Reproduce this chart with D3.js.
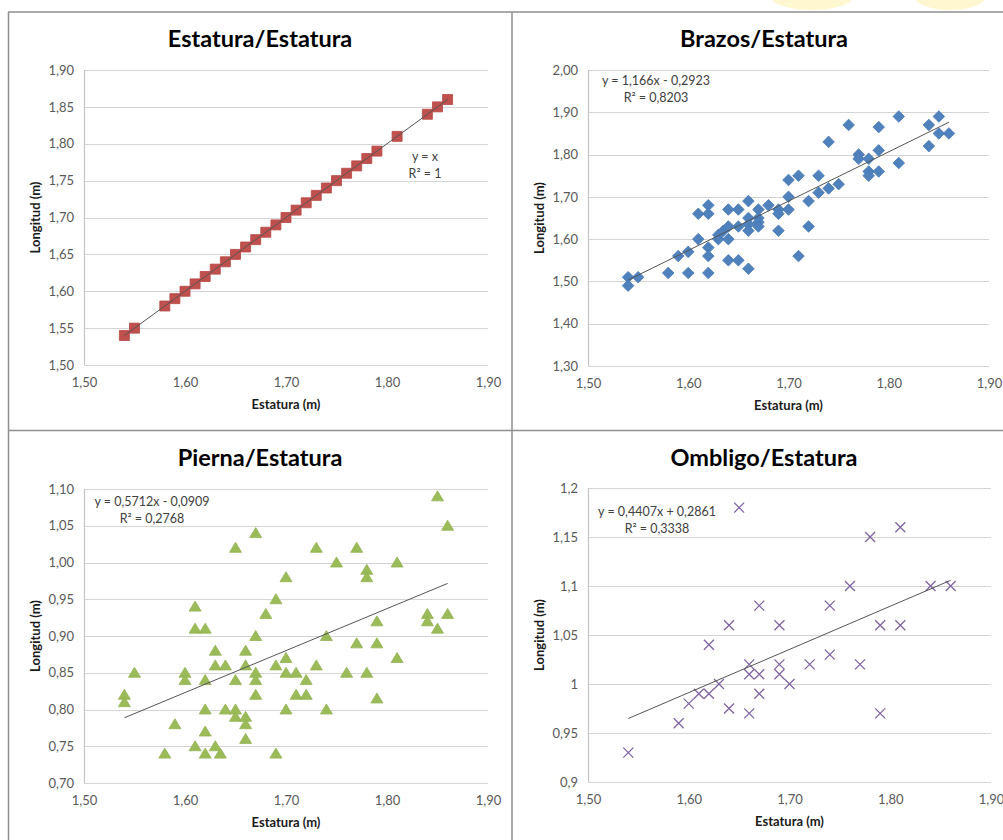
<!DOCTYPE html>
<html>
<head>
<meta charset="utf-8">
<script src="https://cdn.jsdelivr.net/npm/d3@7"></script>
<style>
  body { margin: 0; background: #fff; }
  svg { display: block; font-family: Lato, 'Open Sans', sans-serif; }
</style>
</head>
<body>
<svg id="chart" width="1003" height="840"></svg>
<script>
// values (x = estatura, y = longitud)
const estatura = [1.54, 1.55, 1.58, 1.59, 1.60, 1.61, 1.62, 1.63, 1.64, 1.65, 1.66, 1.67, 1.68, 1.69,
  1.70, 1.71, 1.72, 1.73, 1.74, 1.75, 1.76, 1.77, 1.78, 1.79, 1.81, 1.84, 1.85, 1.86];

const brazos = [
  [1.54, 1.51], [1.54, 1.49], [1.55, 1.51], [1.58, 1.52], [1.59, 1.56], [1.60, 1.57], [1.60, 1.52],
  [1.61, 1.66], [1.61, 1.60], [1.62, 1.68], [1.62, 1.66], [1.62, 1.58], [1.62, 1.56], [1.62, 1.52],
  [1.63, 1.60], [1.63, 1.61], [1.635, 1.62], [1.64, 1.63], [1.64, 1.67], [1.64, 1.60], [1.64, 1.55],
  [1.65, 1.67], [1.65, 1.63], [1.65, 1.55], [1.66, 1.69], [1.66, 1.65], [1.66, 1.635], [1.66, 1.62],
  [1.66, 1.53], [1.67, 1.67], [1.67, 1.65], [1.67, 1.64], [1.67, 1.63], [1.68, 1.68], [1.69, 1.67],
  [1.69, 1.66], [1.69, 1.62], [1.70, 1.74], [1.70, 1.70], [1.70, 1.67], [1.71, 1.75], [1.71, 1.56],
  [1.72, 1.69], [1.72, 1.63], [1.73, 1.75], [1.73, 1.71], [1.74, 1.83], [1.74, 1.72], [1.75, 1.73],
  [1.76, 1.87], [1.77, 1.80], [1.77, 1.79], [1.78, 1.79], [1.78, 1.76], [1.78, 1.75], [1.79, 1.865],
  [1.79, 1.81], [1.79, 1.76], [1.81, 1.89], [1.81, 1.78], [1.84, 1.87], [1.84, 1.82], [1.85, 1.89],
  [1.85, 1.85], [1.86, 1.85]
];

const pierna = [
  [1.54, 0.82], [1.54, 0.81], [1.55, 0.85], [1.58, 0.74], [1.59, 0.78], [1.60, 0.85], [1.60, 0.84],
  [1.61, 0.94], [1.61, 0.91], [1.61, 0.75], [1.62, 0.91], [1.62, 0.84], [1.62, 0.80], [1.62, 0.77],
  [1.62, 0.74], [1.63, 0.88], [1.63, 0.86], [1.63, 0.75], [1.635, 0.74], [1.64, 0.86], [1.64, 0.80],
  [1.65, 1.02], [1.65, 0.84], [1.65, 0.80], [1.65, 0.79], [1.66, 0.88], [1.66, 0.86], [1.66, 0.79],
  [1.66, 0.78], [1.66, 0.76], [1.67, 1.04], [1.67, 0.90], [1.67, 0.85], [1.67, 0.84], [1.67, 0.82],
  [1.68, 0.93], [1.69, 0.95], [1.69, 0.86], [1.69, 0.74], [1.70, 0.98], [1.70, 0.87], [1.70, 0.85],
  [1.70, 0.80], [1.71, 0.85], [1.71, 0.82], [1.72, 0.84], [1.72, 0.82], [1.73, 1.02], [1.73, 0.86],
  [1.74, 0.90], [1.74, 0.80], [1.75, 1.00], [1.76, 0.85], [1.77, 1.02], [1.77, 0.89], [1.78, 0.99],
  [1.78, 0.98], [1.78, 0.85], [1.79, 0.92], [1.79, 0.89], [1.79, 0.815], [1.81, 1.00], [1.81, 0.87],
  [1.84, 0.93], [1.84, 0.92], [1.85, 1.09], [1.85, 0.91], [1.86, 1.05], [1.86, 0.93]
];

const ombligo = [
  [1.54, 0.93], [1.59, 0.96], [1.60, 0.98], [1.61, 0.99], [1.62, 0.99], [1.62, 1.04], [1.63, 1.00],
  [1.64, 1.06], [1.64, 0.975], [1.65, 1.18], [1.66, 1.02], [1.66, 1.01], [1.66, 0.97], [1.67, 1.08],
  [1.67, 1.01], [1.67, 0.99], [1.69, 1.06], [1.69, 1.02], [1.69, 1.01], [1.70, 1.00], [1.72, 1.02],
  [1.74, 1.08], [1.74, 1.03], [1.76, 1.10], [1.77, 1.02], [1.78, 1.15], [1.79, 1.06], [1.79, 0.97],
  [1.81, 1.16], [1.81, 1.06], [1.84, 1.10], [1.86, 1.10]
];

// trendlines (slope, intercept) and their labels
const fits = [[1, 0], [1.166, -0.2923], [0.5712, -0.0909], [0.4407, 0.2861]];
const fitLabels = [
  ['y = x', 'R² = 1'],
  ['y = 1,166x - 0,2923', 'R² = 0,8203'],
  ['y = 0,5712x - 0,0909', 'R² = 0,2768'],
  ['y = 0,4407x + 0,2861', 'R² = 0,3338']
];
const titles = ['Estatura/Estatura', 'Brazos/Estatura', 'Pierna/Estatura', 'Ombligo/Estatura'];
const yDomains = [[1.5, 1.9], [1.3, 2.0], [0.7, 1.1], [0.9, 1.2]];
const xDomain = [1.5, 1.9];

const loc = d3.formatLocale({ decimal: ',', thousands: '.', grouping: [3], currency: ['', ''] });
const f2 = loc.format('.2f'), fTrim = loc.format('.2~f');

const svg = d3.select('#chart');

// faint yellow logo peeking at the top
const deco = svg.append('g').attr('opacity', 0.3);
deco.append('ellipse').attr('cx', 812).attr('cy', -6).attr('rx', 44).attr('ry', 16).attr('fill', '#ffe866');
deco.append('ellipse').attr('cx', 950).attr('cy', -6).attr('rx', 38).attr('ry', 16).attr('fill', '#ffe866');
svg.append('rect').attr('x', 0).attr('y', 12).attr('width', 1003).attr('height', 828).attr('fill', '#fff');

const markers = {
  square: 'M-5,-5H5V5H-5Z',
  diamond: 'M0,-5.8L5.8,0L0,5.8L-5.8,0Z',
  triangle: 'M0,-5.5L6,4.5L-6,4.5Z',
  cross: 'M-5,-5L5,5M5,-5L-5,5'
};

const panels = [
  { data: estatura.map((v) => [v, v]), l: 84, r: 488, t: 70, b: 365, ticks: 8, fmt: f2,
    marker: 'square', fill: '#c0504d', stroke: '#b54744', eqX: 425, eqY: 161, ox: 0, oy: 0 },
  { data: brazos, l: 588, r: 989, t: 70, b: 366, ticks: 7, fmt: f2,
    marker: 'diamond', fill: '#4f81bd', stroke: '#4a7ab5', eqX: 656, eqY: 85, ox: 504, oy: 0 },
  { data: pierna, l: 84, r: 488, t: 489, b: 783, ticks: 8, fmt: f2,
    marker: 'triangle', fill: '#9bbb59', stroke: '#93b254', eqX: 152, eqY: 506, ox: 0, oy: 419 },
  { data: ombligo, l: 588, r: 991, t: 488, b: 782, ticks: 6, fmt: fTrim,
    marker: 'cross', fill: 'none', stroke: '#8064a2', eqX: 657, eqY: 516, ox: 504, oy: 419 }
];

panels.forEach((p, i) => {
  const x = d3.scaleLinear().domain(xDomain).range([p.l, p.r]);
  const y = d3.scaleLinear().domain(yDomains[i]).range([p.b, p.t]);
  const g = svg.append('g');

  // gridlines
  g.append('g').selectAll('line').data(y.ticks(p.ticks)).join('line')
    .attr('x1', p.l).attr('x2', p.r)
    .attr('y1', (d) => Math.round(y(d)) + 0.5).attr('y2', (d) => Math.round(y(d)) + 0.5)
    .attr('stroke', '#d4d4d4').attr('stroke-width', 1.2);
  g.append('line').attr('x1', p.l + 0.5).attr('x2', p.l + 0.5).attr('y1', p.t).attr('y2', p.b)
    .attr('stroke', '#c4c4c4').attr('stroke-width', 1.2);

  // axes, no ticks, just labels
  const yAxis = g.append('g').attr('transform', `translate(${p.l},0)`)
    .call(d3.axisLeft(y).ticks(p.ticks).tickFormat(p.fmt).tickSize(0).tickPadding(10));
  const xAxis = g.append('g').attr('transform', `translate(0,${p.b})`)
    .call(d3.axisBottom(x).ticks(4).tickFormat(f2).tickSize(0).tickPadding(13));
  [yAxis, xAxis].forEach((a) => {
    a.select('.domain').remove();
    a.selectAll('text').attr('fill', '#595959').style('font-size', '13px')
      .style('font-family', 'Lato, sans-serif');
  });

  // points
  g.append('g').selectAll('path').data(p.data).join('path')
    .attr('transform', (d) => `translate(${x(d[0])},${y(d[1])})`)
    .attr('d', markers[p.marker])
    .attr('fill', p.fill).attr('stroke', p.stroke)
    .attr('stroke-width', p.marker === 'cross' ? 1.3 : 0.8);

  // trendline over the points
  const [m, c] = fits[i];
  const xs = d3.extent(p.data, (d) => d[0]);
  g.append('line')
    .attr('x1', x(xs[0])).attr('y1', y(m * xs[0] + c))
    .attr('x2', x(xs[1])).attr('y2', y(m * xs[1] + c))
    .attr('stroke', '#555').attr('stroke-width', 1);

  // equation
  const eq = g.append('text').attr('text-anchor', 'middle').attr('fill', '#404040')
    .style('font-size', '12.5px');
  eq.append('tspan').attr('x', p.eqX).attr('y', p.eqY).text(fitLabels[i][0]);
  eq.append('tspan').attr('x', p.eqX).attr('y', p.eqY + 17).text(fitLabels[i][1]);

  // titles
  g.append('text').attr('x', 260 + p.ox).attr('y', 47 + p.oy).attr('text-anchor', 'middle')
    .style('font-size', '23.5px').style('font-weight', 700).attr('fill', '#000').text(titles[i]);
  g.append('text').attr('x', (p.l + p.r) / 2).attr('y', p.b + 44).attr('text-anchor', 'middle')
    .style('font-size', '13px').style('font-weight', 700).attr('fill', '#1a1a1a').text('Estatura (m)');
  g.append('text').attr('transform', `translate(${40 + p.ox},${(p.t + p.b) / 2}) rotate(-90)`)
    .attr('text-anchor', 'middle')
    .style('font-size', '13px').style('font-weight', 700).attr('fill', '#1a1a1a').text('Longitud (m)');
});

// panel frame lines
const frame = svg.append('g').attr('stroke', '#8f8f8f').attr('stroke-width', 1.5);
[12, 430.5].forEach((v) => frame.append('line').attr('x1', 8).attr('x2', 1003).attr('y1', v).attr('y2', v));
[8.5, 512].forEach((v) => frame.append('line').attr('x1', v).attr('x2', v).attr('y1', 12).attr('y2', 840));
</script>
</body>
</html>
